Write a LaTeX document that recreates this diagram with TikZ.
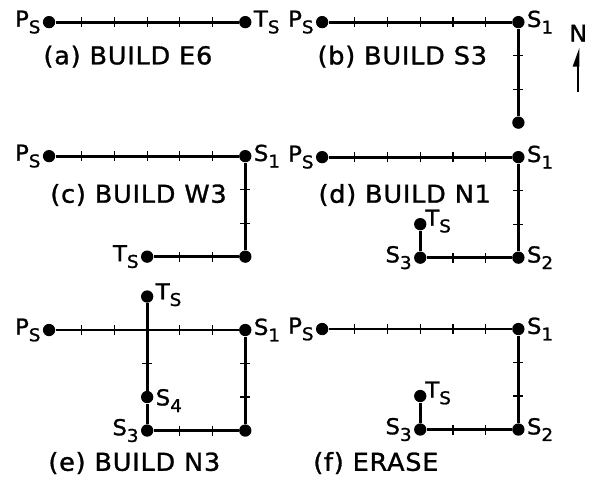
\documentclass[tikz,border=0pt]{standalone}
\usepackage{fontspec}
\setmainfont{DejaVu Sans}
\newfontfamily\capfont[LetterSpace=3,FakeStretch=1.04,FakeBold=1.2]{DejaVu Sans}
\usetikzlibrary{arrows.meta,positioning}

% point name with a lowered index
\newcommand{\pt}[2]{#1\raisebox{-0.55ex}{\fontsize{10}{11}\selectfont #2}}

\tikzset{
  trail/.style={line width=1.6pt},
  dot/.style={circle, fill, inner sep=0pt, minimum size=7pt},
  tickmark/.style={line width=0.7pt},
  ptlabel/.style={font=\capfont\fontsize{12.5}{14}\selectfont, inner sep=1pt},
  caption/.style={anchor=west, inner sep=0pt, font=\capfont\fontsize{14}{16}\selectfont}
}

\begin{document}
\begin{tikzpicture}[x=0.654cm, y=0.67cm]
    \useasboundingbox (-1.50,0.66) rectangle (16.54,-13.64);

    % (a) BUILD E6
    \begin{scope}
        \node[dot] (a-ps) at (0,0) {};
        \node[dot] (a-ts) at (6,0) {};
        \node[ptlabel, left] at (a-ps.west) {\pt{P}{S}};
        \node[ptlabel, right] at (a-ts.east) {\pt{T}{S}};
        \draw[trail] (a-ps) -- (a-ts);
        \foreach \x in {1,...,5} \draw[tickmark] (\x,-0.15) -- (\x,0.15);
        \node[caption] at (-0.18,-1.03) {(a) BUILD E6};
    \end{scope}

    % (b) BUILD S3
    \begin{scope}[shift={(8.35,0)}]
        \node[dot] (b-ps) at (0,0) {};
        \node[dot] (b-s1) at (6,0) {};
        \node[dot] (b-end) at (6,-3) {};
        \node[ptlabel, left] at (b-ps.west) {\pt{P}{S}};
        \node[ptlabel, right] at (b-s1.east) {\pt{S}{1}};
        \draw[trail] (b-ps) -- (b-s1) -- (b-end);
        \foreach \x in {1,...,5} \draw[tickmark] (\x,-0.15) -- (\x,0.15);
        \foreach \y in {-1,-2} \draw[tickmark] (5.85,\y) -- (6.15,\y);
        \node[caption] at (-0.15,-1.03) {(b) BUILD S3};
    \end{scope}

    % north arrow
    \node[font=\capfont\fontsize{13}{15}\selectfont, inner sep=0pt] (north) at (16.18,-0.33) {N};
    \coordinate (ntail) at (16.18,-2.09);
    \draw[line width=1.4pt, shorten >=3pt, -{Triangle[left, length=9pt, width=6pt]}] (ntail) -- (north);

    % (c) BUILD W3
    \begin{scope}[shift={(0,-4)}]
        \node[dot] (c-ps) at (0,0) {};
        \node[dot] (c-s1) at (6,0) {};
        \node[dot] (c-cnr) at (6,-3) {};
        \node[dot] (c-ts) at (3,-3) {};
        \node[ptlabel, left] at (c-ps.west) {\pt{P}{S}};
        \node[ptlabel, right] at (c-s1.east) {\pt{S}{1}};
        \node[ptlabel, left] at (c-ts.west) {\pt{T}{S}};
        \draw[trail] (c-ps) -- (c-s1) -- (c-cnr) -- (c-ts);
        \foreach \x in {1,...,5} \draw[tickmark] (\x,-0.15) -- (\x,0.15);
        \foreach \y in {-1,-2} \draw[tickmark] (5.85,\y) -- (6.15,\y);
        \foreach \x in {4,5} \draw[tickmark] (\x,-3.15) -- (\x,-2.85);
        \node[caption] at (0.03,-1.16) {(c) BUILD W3};
    \end{scope}

    % (d) BUILD N1
    \begin{scope}[shift={(8.35,-4.03)}]
        \node[dot] (d-ps) at (0,0) {};
        \node[dot] (d-s1) at (6,0) {};
        \node[dot] (d-s2) at (6,-3) {};
        \node[dot] (d-s3) at (3,-3) {};
        \node[dot] (d-ts) at (3,-2) {};
        \node[ptlabel, left] at (d-ps.west) {\pt{P}{S}};
        \node[ptlabel, right] at (d-s1.east) {\pt{S}{1}};
        \node[ptlabel, right] at (d-s2.east) {\pt{S}{2}};
        \node[ptlabel, left] at (d-s3.west) {\pt{S}{3}};
        \node[ptlabel, above right, xshift=-2pt, yshift=-6pt] at (d-ts.east) {\pt{T}{S}};
        \draw[trail] (d-ps) -- (d-s1) -- (d-s2) -- (d-s3) -- (d-ts);
        \foreach \x in {1,...,5} \draw[tickmark] (\x,-0.15) -- (\x,0.15);
        \foreach \y in {-1,-2} \draw[tickmark] (5.85,\y) -- (6.15,\y);
        \foreach \x in {4,5} \draw[tickmark] (\x,-3.15) -- (\x,-2.85);
        \node[caption] at (-0.12,-1.13) {(d) BUILD N1};
    \end{scope}

    % (e) BUILD N3
    \begin{scope}[shift={(0,-9.19)}]
        \node[dot] (e-ps) at (0,0) {};
        \node[dot] (e-s1) at (6,0) {};
        \node[dot] (e-cnr) at (6,-3) {};
        \node[dot] (e-s3) at (3,-3) {};
        \node[dot] (e-s4) at (3,-2) {};
        \node[dot] (e-ts) at (3,1) {};
        \node[ptlabel, left] at (e-ps.west) {\pt{P}{S}};
        \node[ptlabel, right] at (e-s1.east) {\pt{S}{1}};
        \node[ptlabel, left] at (e-s3.west) {\pt{S}{3}};
        \node[ptlabel, right, yshift=-2pt] at (e-s4.east) {\pt{S}{4}};
        \node[ptlabel, right, yshift=1pt] at (e-ts.east) {\pt{T}{S}};
        \draw[trail] (e-ps) -- (e-s1) -- (e-cnr) -- (e-s3) -- (e-s4) -- (e-ts);
        \foreach \x in {1,2,4,5} \draw[tickmark] (\x,-0.15) -- (\x,0.15);
        \foreach \y in {-1,-2} \draw[tickmark] (5.85,\y) -- (6.15,\y);
        \foreach \x in {4,5} \draw[tickmark] (\x,-3.15) -- (\x,-2.85);
        \draw[tickmark] (2.85,-1) -- (3.15,-1);
        \node[caption] at (-0.03,-3.97) {(e) BUILD N3};
    \end{scope}

    % (f) ERASE
    \begin{scope}[shift={(8.35,-9.16)}]
        \node[dot] (f-ps) at (0,0) {};
        \node[dot] (f-s1) at (6,0) {};
        \node[dot] (f-s2) at (6,-3) {};
        \node[dot] (f-s3) at (3,-3) {};
        \node[dot] (f-ts) at (3,-2) {};
        \node[ptlabel, left] at (f-ps.west) {\pt{P}{S}};
        \node[ptlabel, right] at (f-s1.east) {\pt{S}{1}};
        \node[ptlabel, right] at (f-s2.east) {\pt{S}{2}};
        \node[ptlabel, left] at (f-s3.west) {\pt{S}{3}};
        \node[ptlabel, above right, xshift=-2pt, yshift=-6pt] at (f-ts.east) {\pt{T}{S}};
        \draw[trail] (f-ps) -- (f-s1) -- (f-s2) -- (f-s3) -- (f-ts);
        \foreach \x in {1,...,5} \draw[tickmark] (\x,-0.15) -- (\x,0.15);
        \foreach \y in {-1,-2} \draw[tickmark] (5.85,\y) -- (6.15,\y);
        \foreach \x in {4,5} \draw[tickmark] (\x,-3.15) -- (\x,-2.85);
        \node[caption] at (-0.28,-4.0) {(f) ERASE};
    \end{scope}
\end{tikzpicture}
\end{document}
